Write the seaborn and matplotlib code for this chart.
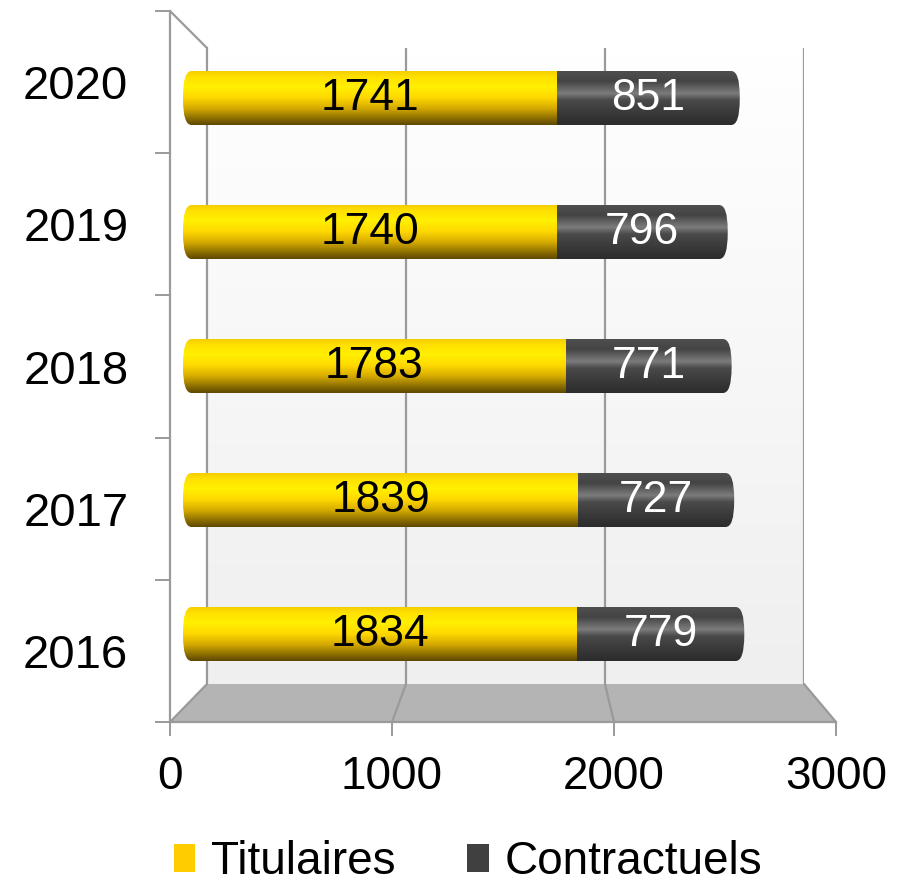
import numpy as np
import pandas as pd
import matplotlib
matplotlib.use("Agg")
import matplotlib.pyplot as plt
import seaborn as sns
from matplotlib.patches import FancyBboxPatch, Polygon, Patch
from matplotlib.lines import Line2D
from matplotlib.colors import LinearSegmentedColormap

# ---------------- data ----------------
years = ["2020", "2019", "2018", "2017", "2016"]
titulaires = [1741, 1740, 1783, 1839, 1834]
contractuels = [851, 796, 771, 727, 779]
x_ticks = [0, 1000, 2000, 3000]
series_names = ["Titulaires", "Contractuels"]

YELLOW = "#FFCC00"
DARK = "#404040"
GRID = "#9a9a9a"

sns.set_theme(style="white")
plt.rcParams["font.family"] = ["Liberation Sans", "DejaVu Sans"]
plt.rcParams["text.color"] = "black"
plt.rcParams["xtick.labelcolor"] = "black"
plt.rcParams["ytick.labelcolor"] = "black"

W, H = 908, 886
fig = plt.figure(figsize=(W / 100, H / 100), dpi=100)


def rect(l, r, t, b):
    return [l / W, 1 - b / H, (r - l) / W, (b - t) / H]


# ---------------- back wall ----------------
axb = fig.add_axes(rect(207, 804, 48, 684), zorder=0)
wall = np.linspace(0, 1, 64).reshape(-1, 1)
wall_cmap = LinearSegmentedColormap.from_list("wall", ["#ffffff", "#efefef"])
axb.imshow(wall, extent=[0, 3000, 0, 1], aspect="auto", cmap=wall_cmap, zorder=0)
axb.set_xlim(0, 3000)
axb.set_ylim(0, 1)
for xv in x_ticks[1:]:
    axb.axvline(xv, color=GRID, lw=1.6, zorder=1)
axb.set_xticks([])
axb.set_yticks([])
for s in ["top", "right", "bottom"]:
    axb.spines[s].set_visible(False)
axb.spines["left"].set_color(GRID)
axb.spines["left"].set_linewidth(1.6)

# ---------------- front axes (ticks / labels) ----------------
axf = fig.add_axes(rect(170, 836, 11, 722), zorder=3)
axf.patch.set_alpha(0)
axf.set_xlim(0, 3000)
axf.set_ylim(5, 0)
axf.set_xticks(x_ticks)
axf.set_xticklabels([str(v) for v in x_ticks], fontsize=33, color="black")
axf.set_yticks(np.arange(len(years)) + 0.5)
axf.set_yticklabels(years, fontsize=34, color="black")
axf.set_yticks(np.arange(len(years) + 1), minor=True)
axf.tick_params(axis="y", which="major", length=0, pad=30)
axf.tick_params(axis="y", which="minor", left=True, length=11, width=1.4, color=GRID)
axf.tick_params(axis="x", which="major", bottom=True, length=10, width=1.4, color=GRID, pad=14)
for s in ["top", "right"]:
    axf.spines[s].set_visible(False)
for s in ["left", "bottom"]:
    axf.spines[s].set_color(GRID)
    axf.spines[s].set_linewidth(1.6)

# ---------------- floor & 3D edges (through axes transforms) ----------------
fig.canvas.draw()
to_fig = fig.transFigure.inverted()


def fpt(ax, x, y):
    return to_fig.transform(ax.transData.transform((x, y)))


floor = Polygon([fpt(axf, 0, 5), fpt(axf, 3000, 5), fpt(axb, 3000, 0), fpt(axb, 0, 0)],
                closed=True, transform=fig.transFigure, facecolor="#b4b4b4",
                edgecolor="none", zorder=1)
fig.add_artist(floor)
for xv in x_ticks:
    p0, p1 = fpt(axf, xv, 5), fpt(axb, xv, 0)
    fig.add_artist(Line2D([p0[0], p1[0]], [p0[1], p1[1]], transform=fig.transFigure,
                          color=GRID, lw=1.6, zorder=2))
p0, p1 = fpt(axf, 0, 0), fpt(axb, 0, 1)
fig.add_artist(Line2D([p0[0], p1[0]], [p0[1], p1[1]], transform=fig.transFigure,
                      color=GRID, lw=1.6, zorder=2))

# ---------------- bars ----------------
ax = fig.add_axes([183 / W, 1 - 701 / H, (3000 * 0.2148) / W, 670 / H], zorder=2)
ax.patch.set_alpha(0)
totals = [t + c for t, c in zip(titulaires, contractuels)]
df = pd.DataFrame({"year": years, "titulaires": titulaires,
                   "contractuels": contractuels, "total": totals})
bar_h = 0.403
sns.barplot(data=df, x="total", y="year", order=years, color=DARK, width=bar_h,
            saturation=1, ax=ax, orient="h")
sns.barplot(data=df, x="titulaires", y="year", order=years, color=YELLOW, width=bar_h,
            saturation=1, ax=ax, orient="h")

cm_y = LinearSegmentedColormap.from_list(
    "cyl_y", [(0, "#f2cc00"), (0.12, "#ffe000"), (0.3, "#fff000"), (0.5, "#ffd800"),
              (0.7, "#d4aa00"), (0.88, "#8c6e00"), (1, "#5e4800")])
cm_d = LinearSegmentedColormap.from_list(
    "cyl_d", [(0, "#505050"), (0.2, "#444444"), (0.42, "#7c7c7c"), (0.55, "#4a4a4a"),
              (0.8, "#383838"), (1, "#2c2c2c")])
grad = np.linspace(0, 1, 128).reshape(-1, 1)

r = 40
asp = 0.19 / r
for i, (t, tot) in enumerate(zip(titulaires, totals)):
    clip = FancyBboxPatch((0, i - bar_h / 2), tot, bar_h,
                          boxstyle=f"round,pad=0,rounding_size={r}",
                          mutation_aspect=asp, transform=ax.transData,
                          facecolor="none", edgecolor="none")
    ax.add_patch(clip)
    ax.imshow(grad, extent=[0, t, i + bar_h / 2, i - bar_h / 2], aspect="auto",
              cmap=cm_y, clip_path=clip, zorder=3, interpolation="bilinear")
    ax.imshow(grad, extent=[t, tot, i + bar_h / 2, i - bar_h / 2], aspect="auto",
              cmap=cm_d, clip_path=clip, zorder=3, interpolation="bilinear")
for p in ax.patches:
    p.set_visible(False)

ax.set_xlim(0, 3000)
ax.set_ylim(4.5, -0.5)

n = len(years)
for i in range(n):
    ax.text((titulaires[i]) / 2, i, str(titulaires[i]), ha="center", va="center",
            fontsize=32, color="black", zorder=5)
    ax.text(titulaires[i] + contractuels[i] / 2, i, str(contractuels[i]), ha="center",
            va="center", fontsize=32, color="white", zorder=5)
ax.set_axis_off()

# ---------------- legend ----------------
handles = [Patch(facecolor=YELLOW, edgecolor="none"), Patch(facecolor=DARK, edgecolor="none")]
fig.legend(handles, series_names, loc="center", bbox_to_anchor=(468 / W, 1 - 862 / H),
           ncol=2, frameon=False, fontsize=33, handlelength=0.47, handleheight=0.55,
           handletextpad=0.35, columnspacing=1.55, borderaxespad=0, borderpad=0,
           labelcolor="black")

fig.savefig("out.png", dpi=100)
